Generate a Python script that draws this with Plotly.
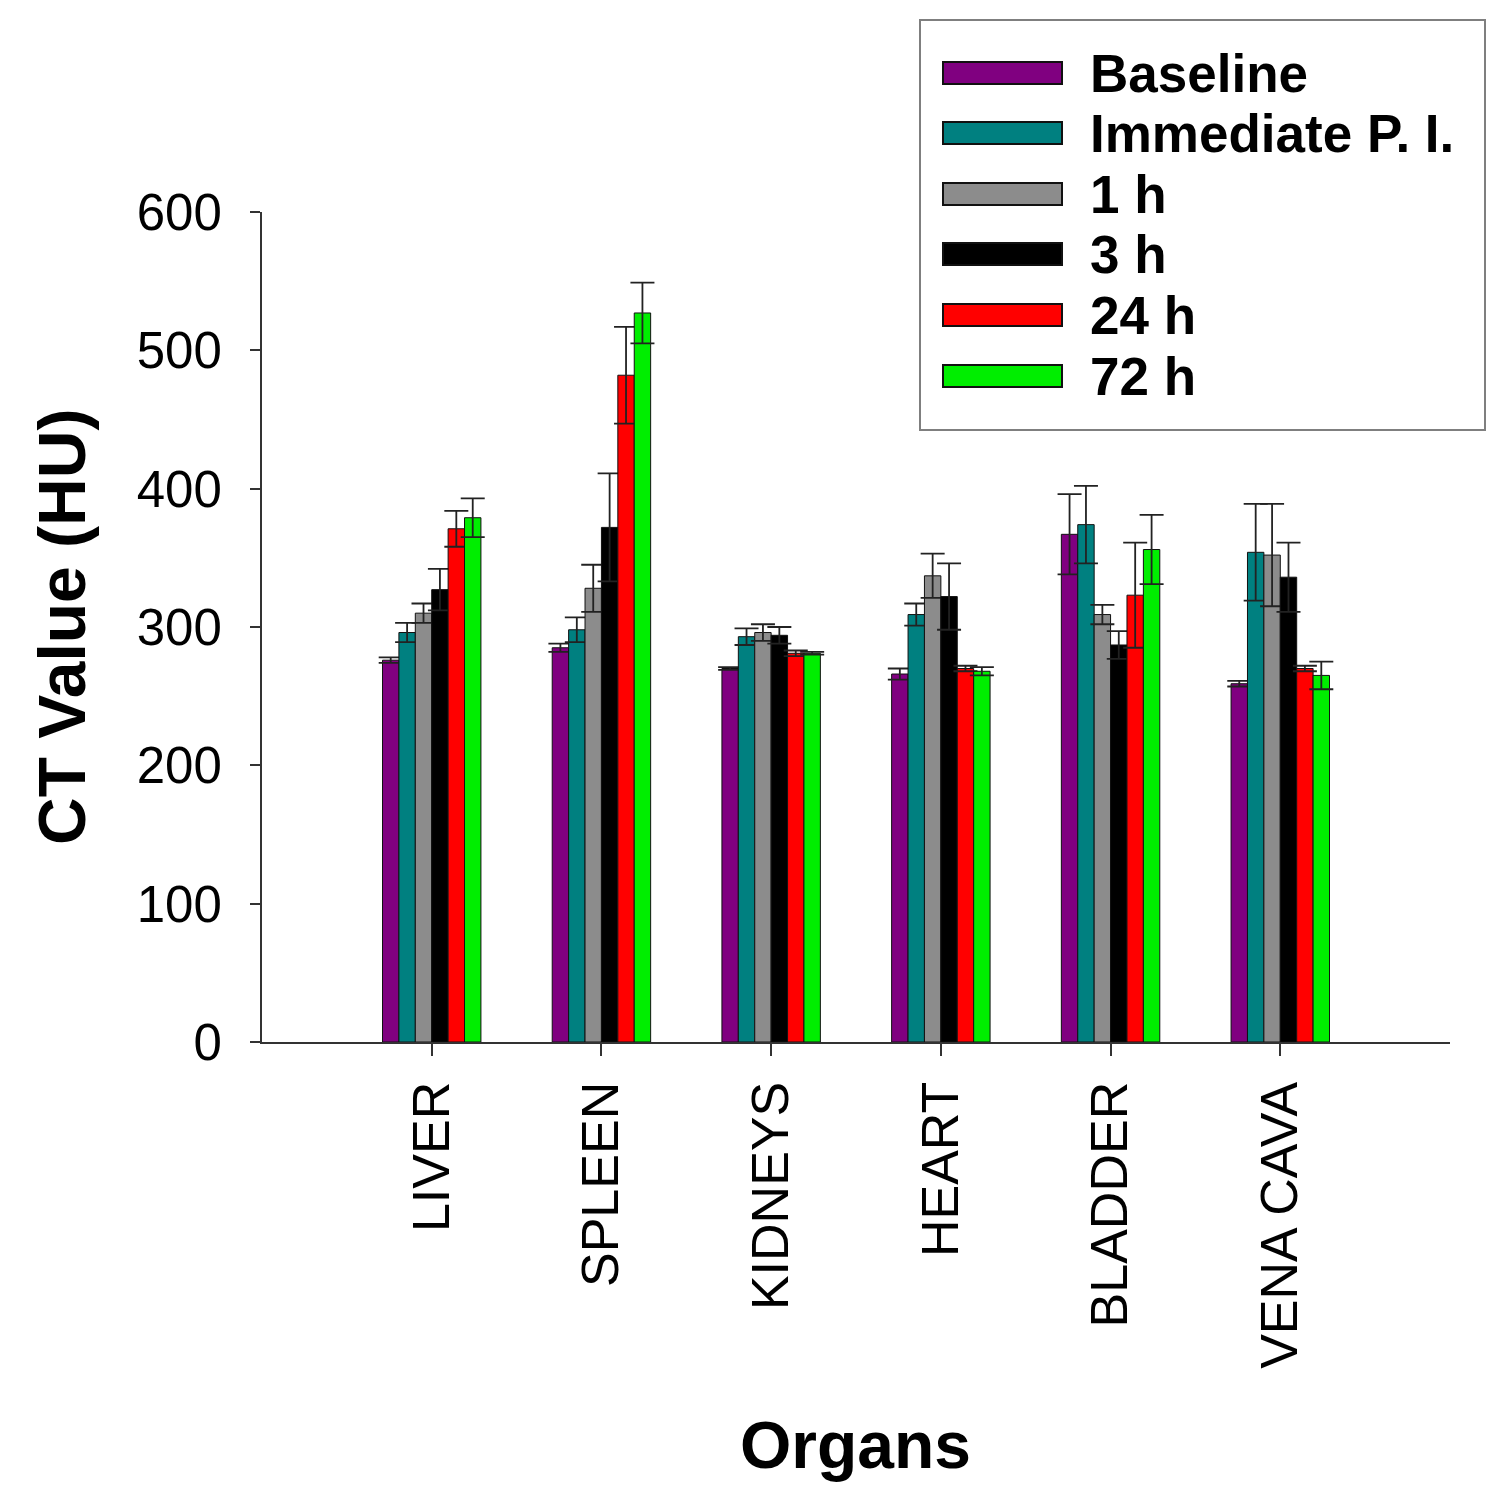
import plotly.graph_objects as go

organs = ["LIVER", "SPLEEN", "KIDNEYS", "HEART", "BLADDER", "VENA CAVA"]
series_names = ["Baseline", "Immediate P. I.", "1 h", "3 h", "24 h", "72 h"]

baseline = [276, 285, 270, 266, 367, 259]
immediate = [296, 298, 293, 309, 374, 354]
h1 = [310, 328, 296, 337, 309, 352]
h3 = [327, 372, 294, 322, 287, 336]
h24 = [371, 482, 281, 270, 323, 270]
h72 = [379, 527, 281, 268, 356, 265]

err_baseline = [2, 3, 1, 4, 29, 2]
err_immediate = [7, 9, 6, 8, 28, 35]
err_h1 = [7, 17, 6, 16, 7, 37]
err_h3 = [15, 39, 6, 24, 10, 25]
err_h24 = [13, 35, 2, 2, 38, 2]
err_h72 = [14, 22, 1, 3, 25, 10]

values = [baseline, immediate, h1, h3, h24, h72]
errors = [err_baseline, err_immediate, err_h1, err_h3, err_h24, err_h72]
colors = ["#800080", "#008080", "#8c8c8c", "#000000", "#ff0000", "#00ee00"]

FONT = "Liberation Sans, Arial, sans-serif"

fig = go.Figure()
for name, vals, errs, col in zip(series_names, values, errors, colors):
    fig.add_trace(go.Bar(
        x=organs, y=vals, name=name,
        marker=dict(color=col, line=dict(color="#111111", width=1)),
        error_y=dict(type="data", array=errs, symmetric=True,
                     color="#222222", thickness=1.8, width=12),
        showlegend=False,
    ))

# page offset (body margin) and plot-area geometry in page pixels
OFF = 8
W, H = 1497 - OFF, 1500 - OFF
L, R, T, B = 262, 1450, 212, 1042
def px(x):
    return (x - L) / (R - L)
def py(y):
    return (B - y) / (B - T)

shapes = []
annotations = []
# legend box
shapes.append(dict(type="rect", xref="paper", yref="paper",
                   x0=px(920), x1=px(1485), y0=py(430), y1=py(20),
                   line=dict(color="#7f7f7f", width=2), fillcolor="white", layer="above"))
leg_y = [73, 133, 194, 254, 315, 376]
for name, col, yc in zip(series_names, colors, leg_y):
    shapes.append(dict(type="rect", xref="paper", yref="paper",
                       x0=px(943), x1=px(1062), y0=py(yc + 11), y1=py(yc - 11),
                       line=dict(color="#111111", width=2), fillcolor=col, layer="above"))
    annotations.append(dict(text=name, xref="paper", yref="paper",
                            x=px(1088), y=py(yc), xanchor="left", yanchor="middle",
                            showarrow=False,
                            font=dict(family=FONT, size=53, color="black", weight="bold")))

# axis titles
annotations.append(dict(text="<b>CT Value (HU)</b>", xref="paper", yref="paper",
                        x=px(62), y=py(627), textangle=-90, showarrow=False,
                        xanchor="center", yanchor="middle",
                        font=dict(family=FONT, size=66, color="black")))
annotations.append(dict(text="<b>Organs</b>", xref="paper", yref="paper",
                        x=px(855), y=py(1445), showarrow=False,
                        xanchor="center", yanchor="middle",
                        font=dict(family=FONT, size=66, color="black")))

fig.update_layout(
    width=W, height=H,
    margin=dict(l=L - OFF, r=W - (R - OFF), t=T - OFF, b=H - (B - OFF), pad=0),
    paper_bgcolor="white", plot_bgcolor="white",
    barmode="group", bargap=0.42, bargroupgap=0,
    font=dict(family=FONT, color="black"),
    shapes=shapes, annotations=annotations,
    xaxis=dict(range=[-1, 6], showline=True, linecolor="#333333", linewidth=2,
               ticks="outside", ticklen=12, tickwidth=2, tickcolor="#333333",
               tickangle=-90, tickfont=dict(family=FONT, size=52, color="black"),
               showgrid=False, zeroline=False, ticklabelstandoff=5),
    yaxis=dict(range=[0, 600], tickvals=[0, 100, 200, 300, 400, 500, 600],
               showline=True, linecolor="#333333", linewidth=2,
               ticks="outside", ticklen=10, tickwidth=2, tickcolor="#333333",
               tickfont=dict(family=FONT, size=51, color="black"),
               showgrid=False, zeroline=False, ticklabelstandoff=18),
)

fig.write_html("out.html")
